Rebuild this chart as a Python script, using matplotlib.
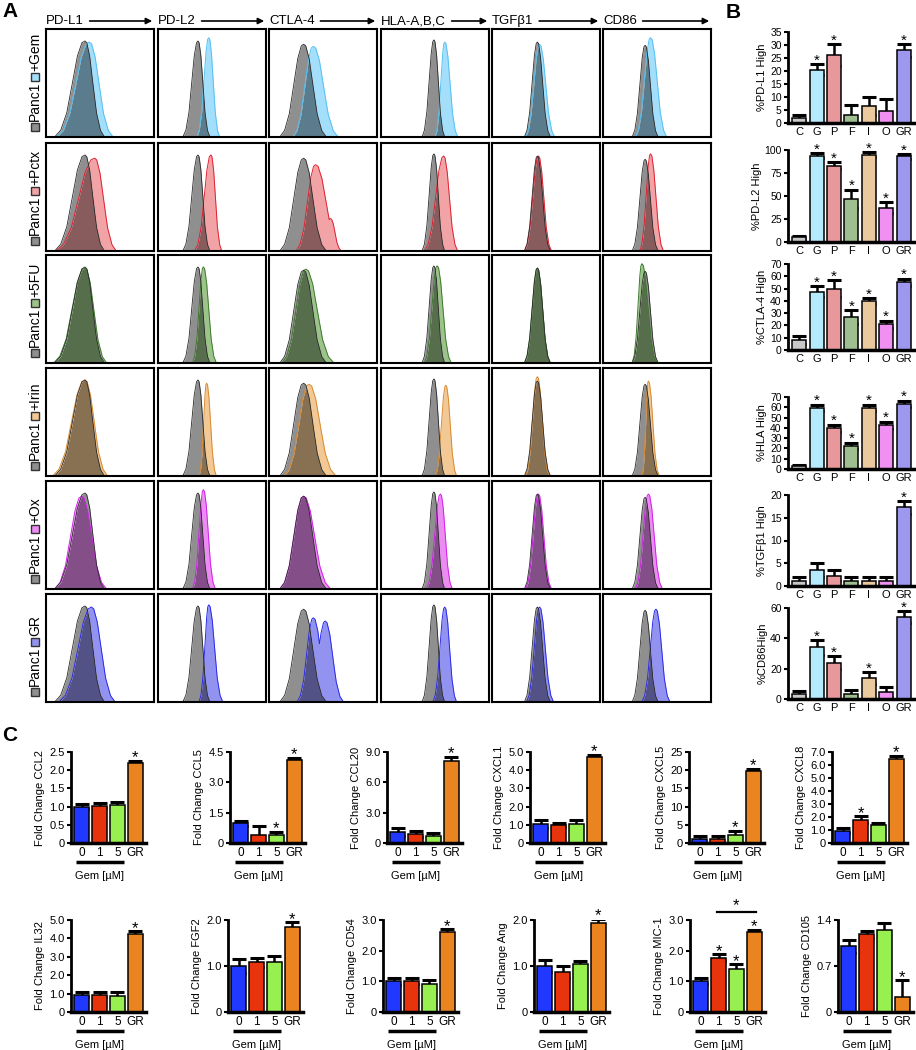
import numpy as np
import matplotlib
matplotlib.use("Agg")
import matplotlib.pyplot as plt
from matplotlib.patches import Rectangle, FancyArrowPatch
from matplotlib.transforms import blended_transform_factory

plt.rcParams["font.family"] = ["Liberation Sans", "DejaVu Sans"]

# ---------------- data ----------------
markers = ["PD-L1", "PD-L2", "CTLA-4", "HLA-A,B,C", "TGFβ1", "CD86"]
treatments = ["+Gem", "+Pctx", "+5FU", "+Irin", "+Ox", "GR"]

# histogram shape per curve: (peak, left foot, right foot, height), log-intensity as box fraction
ctrl_hist = [(0.36, 0.08, 0.54, 0.89), (0.37, 0.23, 0.48, 0.89), (0.32, 0.10, 0.53, 0.86),
             (0.49, 0.38, 0.59, 0.90), (0.42, 0.30, 0.54, 0.88), (0.39, 0.27, 0.51, 0.85)]
gem_hist = [(0.40, 0.10, 0.62, 0.88), (0.47, 0.36, 0.57, 0.92), (0.41, 0.22, 0.64, 0.84),
            (0.59, 0.50, 0.71, 0.88), (0.44, 0.31, 0.58, 0.86), (0.44, 0.30, 0.59, 0.92)]
pctx_hist = [(0.45, 0.09, 0.65, 0.86), (0.49, 0.34, 0.59, 0.89), (0.43, 0.25, 0.67, 0.80),
             (0.58, 0.40, 0.71, 0.88), (0.43, 0.30, 0.55, 0.88), (0.44, 0.34, 0.56, 0.90)]
fu_hist = [(0.36, 0.07, 0.56, 0.88), (0.42, 0.32, 0.54, 0.89), (0.34, 0.12, 0.60, 0.87),
           (0.52, 0.40, 0.65, 0.90), (0.42, 0.30, 0.54, 0.88), (0.36, 0.27, 0.50, 0.92)]
irin_hist = [(0.36, 0.06, 0.57, 0.89), (0.45, 0.38, 0.54, 0.86), (0.37, 0.14, 0.62, 0.85),
             (0.60, 0.50, 0.70, 0.84), (0.42, 0.31, 0.53, 0.92), (0.42, 0.36, 0.52, 0.88)]
ox_hist = [(0.33, 0.08, 0.56, 0.86), (0.42, 0.32, 0.53, 0.92), (0.32, 0.10, 0.57, 0.86),
           (0.55, 0.42, 0.66, 0.88), (0.43, 0.31, 0.55, 0.88), (0.42, 0.30, 0.55, 0.88)]
gr_hist = [(0.42, 0.12, 0.64, 0.88), (0.47, 0.38, 0.60, 0.90), (0.41, 0.26, 0.58, 0.78),
           (0.59, 0.48, 0.70, 0.88), (0.44, 0.32, 0.57, 0.88), (0.49, 0.36, 0.62, 0.86)]
# secondary peaks / shoulders: (row, col) -> component
extra_hist = {(1, 2): (0.57, 0.47, 0.67, 0.30), (5, 2): (0.52, 0.36, 0.69, 0.75),
              (5, 0): (0.36, 0.15, 0.50, 0.62)}
treated_hist = [gem_hist, pctx_hist, fu_hist, irin_hist, ox_hist, gr_hist]

# normalized peak template
tmpl_u = [-1.0, -0.8, -0.6, -0.4, -0.25, -0.1, 0.0, 0.1, 0.25, 0.4, 0.6, 0.8, 1.0]
tmpl_h = [0.0, 0.07, 0.25, 0.58, 0.84, 0.98, 1.0, 0.98, 0.84, 0.58, 0.25, 0.07, 0.0]

treat_fill = ["#a3defa", "#f2a3a6", "#9cc48a", "#f2c894", "#ec8cf2", "#9293f0"]
treat_line = ["#55c0f0", "#e02030", "#3f7a30", "#d88a30", "#d020e8", "#2a2ae8"]
ctrl_fill = "#8f8f8f"

# panel B
b_groups = ["C", "G", "P", "F", "I", "O", "GR"]
b_colors = ["#c8c8c8", "#b5eafc", "#e8989a", "#9fbf90", "#eac99e", "#f090f2", "#9d98ee"]
b_labels = ["%PD-L1 High", "%PD-L2 High", "%CTLA-4 High", "%HLA High", "%TGFβ1 High", "%CD86High"]
b_vals = [[2, 20.5, 26, 3.2, 6.5, 4.8, 28],
          [5, 94, 83, 47, 95, 37, 93],
          [8, 47.5, 50, 27, 40, 21, 55],
          [2.5, 59, 39.5, 22, 59, 42.5, 63],
          [1, 3.5, 2.3, 1, 1, 1, 17.3],
          [3, 34, 24, 3, 14, 4.5, 54]]
b_errs = [[1.2, 2.2, 4.2, 3.8, 3.6, 4.5, 2.5],
          [1.5, 3, 4, 10, 3, 6, 3],
          [3.5, 4.5, 7, 5.5, 2.2, 3, 3],
          [1.8, 3, 3.5, 3, 3, 3.5, 3],
          [1, 1.5, 1.2, 1, 1, 1, 1.4],
          [2, 5, 4.5, 3, 4, 3.5, 4]]
b_stars = [[0, 1, 1, 0, 0, 0, 1],
           [0, 1, 1, 1, 1, 1, 1],
           [0, 1, 1, 1, 1, 1, 1],
           [0, 1, 1, 1, 1, 1, 1],
           [0, 0, 0, 0, 0, 0, 1],
           [0, 1, 1, 0, 1, 0, 1]]
b_ticks = [[0, 5, 10, 15, 20, 25, 30, 35], [0, 25, 50, 75, 100], list(range(0, 80, 10)),
           list(range(0, 80, 10)), [0, 5, 10, 15, 20], [0, 20, 40, 60]]

# panel C
c_groups = ["0", "1", "5", "GR"]
c_colors = ["#2038ff", "#e8340c", "#98f050", "#ea8420"]
c_genes = ["CCL2", "CCL5", "CCL20", "CXCL1", "CXCL5", "CXCL8",
           "IL32", "FGF2", "CD54", "Ang", "MIC-1", "CD105"]
c_vals = [[1.0, 1.03, 1.04, 2.2], [0.97, 0.42, 0.40, 4.1], [1.1, 0.9, 0.65, 8.1],
          [1.05, 1.0, 1.02, 4.7], [1.0, 1.1, 2.3, 19.7], [0.95, 1.8, 1.35, 6.5],
          [0.95, 0.95, 0.88, 4.25], [1.0, 1.08, 1.08, 1.85], [1.0, 1.0, 0.9, 2.6],
          [1.0, 0.87, 1.05, 1.93], [1.0, 1.77, 1.4, 2.6], [1.0, 1.18, 1.25, 0.23]]
c_errs = [[0.07, 0.08, 0.1, 0.06], [0.12, 0.4, 0.15, 0.12], [0.4, 0.3, 0.3, 0.4],
          [0.2, 0.12, 0.25, 0.15], [0.8, 0.7, 1.0, 0.7], [0.2, 0.25, 0.2, 0.2],
          [0.15, 0.15, 0.22, 0.15], [0.15, 0.1, 0.13, 0.1], [0.12, 0.1, 0.15, 0.1],
          [0.12, 0.14, 0.06, 0.1], [0.1, 0.12, 0.15, 0.08], [0.1, 0.05, 0.1, 0.25]]
c_stars = [[0, 0, 0, 1], [0, 0, 1, 1], [0, 0, 0, 1], [0, 0, 0, 1], [0, 0, 1, 1], [0, 1, 0, 1],
           [0, 0, 0, 1], [0, 0, 0, 1], [0, 0, 0, 1], [0, 0, 0, 1], [0, 1, 1, 1], [0, 0, 0, 1]]
c_ticks = [[0, 0.5, 1.0, 1.5, 2.0, 2.5], [0, 1.5, 3.0, 4.5], [0, 3.0, 6.0, 9.0],
           [0, 1.0, 2.0, 3.0, 4.0, 5.0], [0, 5, 10, 15, 20, 25],
           [0, 1.0, 2.0, 3.0, 4.0, 5.0, 6.0, 7.0],
           [0, 1.0, 2.0, 3.0, 4.0, 5.0], [0, 1.0, 2.0], [0, 1.0, 2.0, 3.0], [0, 1.0, 2.0],
           [0, 1.0, 2.0, 3.0], [0, 0.7, 1.4]]
c_ticklabels = [["0", "0.5", "1.0", "1.5", "2.0", "2.5"], ["0", "1.5", "3.0", "4.5"],
                ["0", "3.0", "6.0", "9.0"], ["0", "1.0", "2.0", "3.0", "4.0", "5.0"],
                ["0", "5", "10", "15", "20", "25"],
                ["0", "1.0", "2.0", "3.0", "4.0", "5.0", "6.0", "7.0"],
                ["0", "1.0", "2.0", "3.0", "4.0", "5.0"], ["0", "1.0", "2.0"],
                ["0", "1.0", "2.0", "3.0"], ["0", "1.0", "2.0"], ["0", "1.0", "2.0", "3.0"],
                ["0", "0.7", "1.4"]]

# ---------------- figure ----------------
W, H = 916, 1050
fig = plt.figure(figsize=(W / 100, H / 100), dpi=100)


def add_px(left, top, right, bottom):
    return fig.add_axes([left / W, 1 - bottom / H, (right - left) / W, (bottom - top) / H])


def curve(xg, comps):
    y = np.zeros_like(xg)
    for peak, lo, hi, h in comps:
        u = np.array(tmpl_u)
        kx = np.where(u < 0, peak + u * (peak - lo), peak + u * (hi - peak))
        y = np.maximum(y, h * np.interp(xg, kx, tmpl_h))
    return y


def rgb(c):
    return np.array(matplotlib.colors.to_rgb(c))


# ---- panel A ----
col_left = [46, 158, 269, 381, 492, 603]
row_top = [29, 143, 255, 368, 481, 594]
box = 108
xg = np.linspace(0, 1, 500)

renderer = fig.canvas.get_renderer()
for j, m in enumerate(markers):
    t = fig.text(col_left[j] / W, 1 - 21 / H, m, fontsize=9.5, ha="left", va="center")
    x1 = t.get_window_extent(renderer).x1
    fig.add_artist(FancyArrowPatch(
        (x1 + 3, H - 21), (col_left[j] + box + 1, H - 21), transform=None,
        arrowstyle="-|>", mutation_scale=9, lw=1.2, color="black"))

for i, tr in enumerate(treatments):
    mult = rgb(ctrl_fill) * rgb(treat_fill[i])
    for j in range(len(markers)):
        ax = add_px(col_left[j], row_top[i], col_left[j] + box, row_top[i] + box)
        g = curve(xg, [ctrl_hist[j]])
        comps = [treated_hist[i][j]]
        if (i, j) in extra_hist:
            comps.append(extra_hist[(i, j)])
        tt = curve(xg, comps)
        ov = np.minimum(g, tt)
        ax.fill_between(xg, 0, ov, color=mult, lw=0)
        ax.fill_between(xg, ov, g, color=ctrl_fill, lw=0)
        ax.fill_between(xg, ov, tt, color=treat_fill[i], lw=0)
        ax.plot(xg, tt, color=treat_line[i], lw=0.7)
        ax.plot(xg, g, color="#2a2a2a", lw=0.6)
        ax.set_xlim(0, 1)
        ax.set_ylim(0, 1)
        ax.set_xticks([])
        ax.set_yticks([])
        for s in ax.spines.values():
            s.set_linewidth(1.5)
    # row legend
    bot = row_top[i] + box
    for yc, fc in [(bot - 10, ctrl_fill), (bot - 60, treat_fill[i])]:
        fig.add_artist(Rectangle(((35 - 4) / W, 1 - (yc + 4) / H), 8 / W, 8 / H,
                                 transform=fig.transFigure, fc=fc, ec="#333333", lw=1.0))
    fig.text(35 / W, 1 - (bot - 16) / H, "Panc1", rotation=90, ha="center", va="bottom",
             fontsize=10)
    fig.text(35 / W, 1 - (bot - 66) / H, tr, rotation=90, ha="center", va="bottom",
             fontsize=10)


def style_bar_axes(ax, tick_size):
    ax.spines["top"].set_visible(False)
    ax.spines["right"].set_visible(False)
    ax.spines["left"].set_linewidth(2)
    ax.spines["bottom"].set_linewidth(2.5)
    ax.tick_params(axis="y", length=3, width=1.5, labelsize=tick_size, pad=1.5)
    ax.tick_params(axis="x", length=0, labelsize=tick_size + 0.5, pad=3)


def bars_with_err(ax, x, vals, errs, colors, width, star_list, ymax, star_size, star_off):
    # error bar drawn under the bars so only the upper half shows
    ax.errorbar(x, vals, yerr=errs, fmt="none", ecolor="black",
                elinewidth=1.8, capsize=5, capthick=2.2, zorder=1)
    ax.bar(x, vals, width=width, color=colors, edgecolor="black", lw=1.1, zorder=2)
    for xi, v, e, s in zip(x, vals, errs, star_list):
        if s:
            ax.text(xi, v + e - star_off * ymax, "*", ha="center", va="bottom",
                    fontsize=star_size, zorder=3)


# ---- panel B ----
b_rows = [(32, 123), (150, 242), (264, 350), (397, 469), (495, 586), (608, 699)]
xb = np.arange(len(b_groups))
for k, (top, bottom) in enumerate(b_rows):
    ax = add_px(788, top, 914, bottom)
    ymax = b_ticks[k][-1]
    bars_with_err(ax, xb, b_vals[k], b_errs[k], b_colors, 0.8, b_stars[k], ymax, 11, 0.04)
    ax.set_ylim(0, ymax)
    ax.set_yticks(b_ticks[k])
    ax.set_xlim(-0.65, 6.6)
    ax.set_xticks(xb)
    ax.set_xticklabels(b_groups)
    ax.set_ylabel(b_labels[k], fontsize=8, labelpad=2)
    style_bar_axes(ax, 7.5)

# ---- panel C ----
c_lefts = [[71, 230, 387, 530, 689, 832], [71, 228, 383, 534, 690, 838]]
c_rows = [(752, 843), (920, 1012)]
xc = np.arange(len(c_groups))
for k, gene in enumerate(c_genes):
    r, c = divmod(k, 6)
    top, bottom = c_rows[r]
    ax = add_px(c_lefts[r][c], top, c_lefts[r][c] + 75, bottom)
    ymax = c_ticks[k][-1]
    bars_with_err(ax, xc, c_vals[k], c_errs[k], c_colors, 0.85, c_stars[k], ymax, 12, 0.05)
    ax.set_ylim(0, ymax)
    ax.set_yticks(c_ticks[k])
    ax.set_yticklabels(c_ticklabels[k])
    ax.set_xlim(-0.62, 3.62)
    ax.set_xticks(xc)
    ax.set_xticklabels(c_groups)
    ax.set_ylabel("Fold Change " + gene, fontsize=8, labelpad=3)
    style_bar_axes(ax, 8)
    tr = blended_transform_factory(ax.transData, ax.transAxes)
    ax.plot([-0.35, 2.4], [-0.21, -0.21], transform=tr, color="black", lw=2.5,
            clip_on=False, solid_capstyle="butt")
    ax.text(1.0, -0.36, "Gem [µM]", transform=tr, ha="center", va="center", fontsize=8)
    if gene == "MIC-1":
        ax.plot([0.9, 3.1], [3.25, 3.25], color="black", lw=1.6, clip_on=False)
        ax.text(2.0, 3.22, "*", ha="center", va="bottom", fontsize=12, clip_on=False)

# panel letters
for letter, (lx, ly) in {"A": (2, 2), "B": (726, 3), "C": (2, 726)}.items():
    fig.text(lx / W, 1 - ly / H, letter, fontsize=15, fontweight="bold", ha="left", va="top")

fig.savefig("out.png", dpi=100)
